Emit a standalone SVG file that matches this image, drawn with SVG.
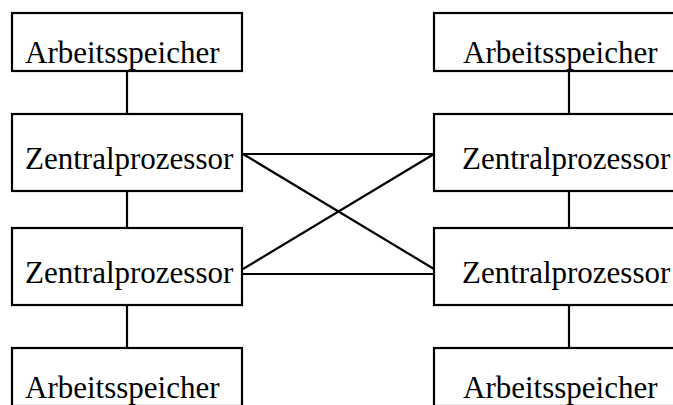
<svg xmlns="http://www.w3.org/2000/svg" width="673" height="405" viewBox="0 0 673 405">
<style>
.box{fill:#fff;stroke:#000;stroke-width:2.2}
.ln{stroke:#000;stroke-width:2.2;fill:none}
.t{font-family:"Liberation Serif","Times New Roman",serif;font-size:31px;fill:#000}
</style>
<rect width="673" height="405" fill="#fff"/>
<g id="connectors">
<line class="ln" x1="127" y1="71" x2="127" y2="114"/>
<line class="ln" x1="127" y1="191" x2="127" y2="228"/>
<line class="ln" x1="127" y1="305" x2="127" y2="348"/>
<line class="ln" x1="569" y1="71" x2="569" y2="114"/>
<line class="ln" x1="569" y1="191" x2="569" y2="228"/>
<line class="ln" x1="569" y1="305" x2="569" y2="348"/>
<line class="ln" x1="243" y1="154" x2="434" y2="154"/>
<line class="ln" x1="243" y1="274" x2="434" y2="274"/>
<line class="ln" x1="243" y1="154" x2="434" y2="269"/>
<line class="ln" x1="243" y1="269" x2="434" y2="154"/>
</g>
<g id="mem-l-top"><rect class="box" x="12" y="13" width="230" height="58"/><text class="t" x="25" y="63">Arbeitsspeicher</text></g>
<g id="cpu-l-1"><rect class="box" x="12" y="114" width="230" height="77"/><text class="t" x="25" y="169">Zentralprozessor</text></g>
<g id="cpu-l-2"><rect class="box" x="12" y="228" width="230" height="77"/><text class="t" x="25" y="283">Zentralprozessor</text></g>
<g id="mem-l-bot"><rect class="box" x="12" y="348" width="230" height="58"/><text class="t" x="25" y="398">Arbeitsspeicher</text></g>
<g id="mem-r-top"><rect class="box" x="434" y="13" width="270" height="58"/><text class="t" x="463" y="63">Arbeitsspeicher</text></g>
<g id="cpu-r-1"><rect class="box" x="434" y="114" width="270" height="77"/><text class="t" x="462" y="169">Zentralprozessor</text></g>
<g id="cpu-r-2"><rect class="box" x="434" y="228" width="270" height="77"/><text class="t" x="462" y="283">Zentralprozessor</text></g>
<g id="mem-r-bot"><rect class="box" x="434" y="348" width="270" height="58"/><text class="t" x="463" y="398">Arbeitsspeicher</text></g>
</svg>
